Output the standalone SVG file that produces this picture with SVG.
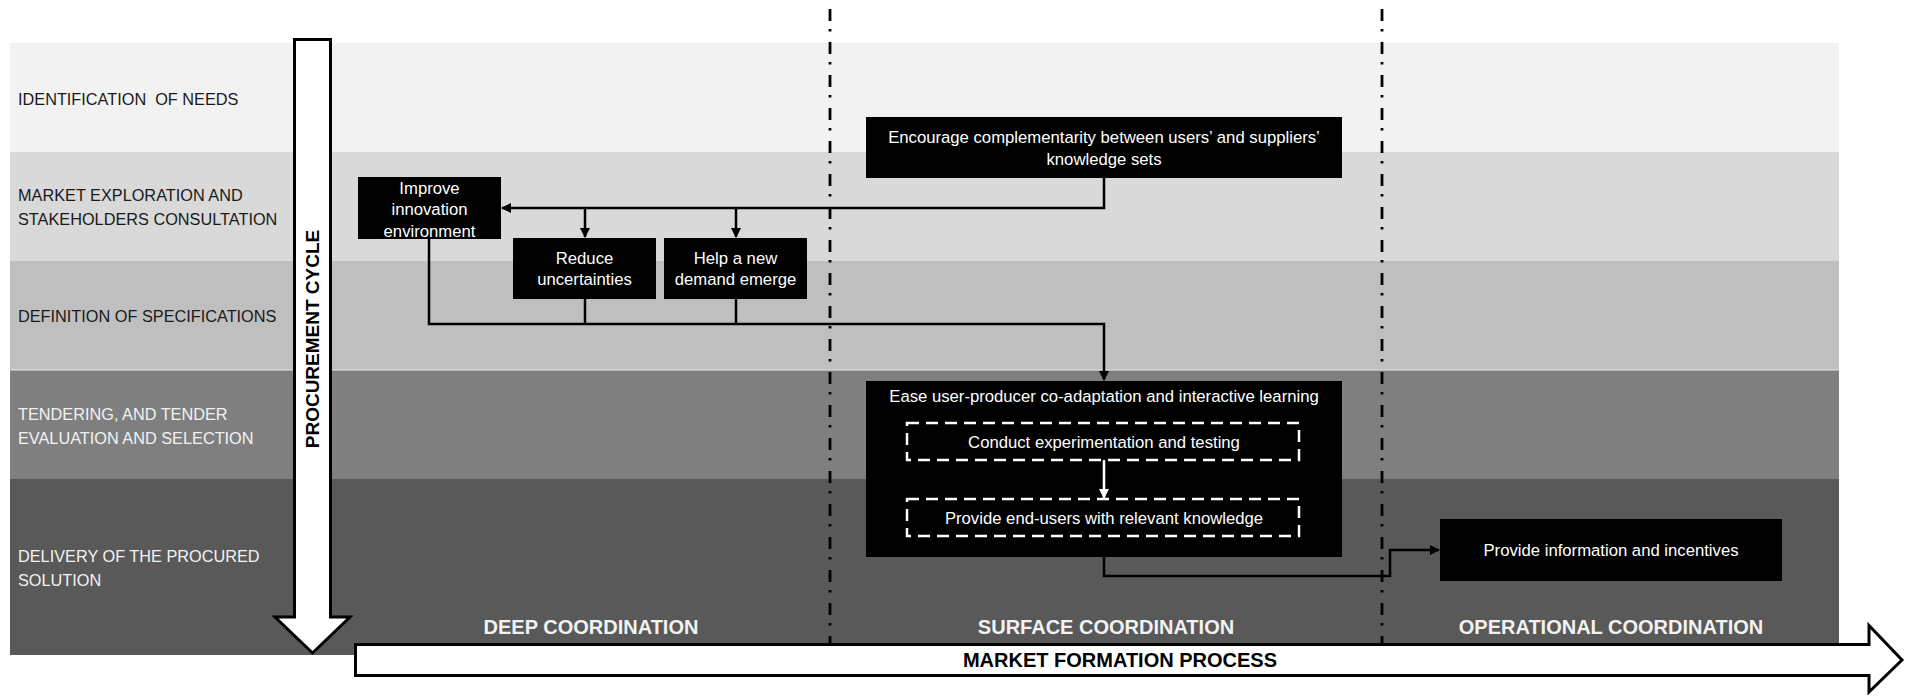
<svg xmlns="http://www.w3.org/2000/svg" width="1910" height="696" viewBox="0 0 1910 696">
<style>
.lbl{font-family:"Liberation Sans",Arial,sans-serif;font-size:16.3px;white-space:pre}
.dk{fill:#1a1a1a}
.lt{fill:#f2f2f2}
.node rect.box{fill:#000}
.nt{font-family:"Liberation Sans",Arial,sans-serif;font-size:16.7px;fill:#fff;text-anchor:middle}
.dash{fill:none;stroke:#fff;stroke-width:2.5;stroke-dasharray:12 7}
.conn{fill:none;stroke:#000;stroke-width:2.5}
.connw{fill:none;stroke:#fff;stroke-width:2.5}
.sep{fill:none;stroke:#000;stroke-width:2.8;stroke-dasharray:12 8 2.5 10.5}
.big{fill:#fff;stroke:#000;stroke-width:3}
.hd{font-family:"Liberation Sans",Arial,sans-serif;font-size:20px;font-weight:bold;text-anchor:middle}
</style>
<defs>
<marker id="ah" viewBox="0 0 10 10" refX="9" refY="5" markerWidth="10" markerHeight="10" markerUnits="userSpaceOnUse" orient="auto">
<path d="M0,0 L10,5 L0,10 Z" fill="#000"/>
</marker>
<marker id="ahw" viewBox="0 0 10 10" refX="9" refY="5" markerWidth="10" markerHeight="10" markerUnits="userSpaceOnUse" orient="auto">
<path d="M0,0 L10,5 L0,10 Z" fill="#fff"/>
</marker>
</defs>
<rect width="1910" height="696" fill="#fff"/>
<g id="bands">
<rect x="10" y="43" width="1829" height="109" fill="#f2f2f2"/>
<rect x="10" y="152" width="1829" height="109" fill="#d9d9d9"/>
<rect x="10" y="261" width="1829" height="109" fill="#bfbfbf"/>
<rect x="10" y="370" width="1829" height="109" fill="#7f7f7f"/>
<rect x="10" y="479" width="1829" height="176" fill="#595959"/>
<line x1="10" y1="370" x2="1839" y2="370" stroke="#e8e8e8" stroke-width="1.2"/>
<text class="lbl dk" x="18" y="105">IDENTIFICATION  OF NEEDS</text>
<text class="lbl dk" x="18" y="201">MARKET EXPLORATION AND</text>
<text class="lbl dk" x="18" y="225">STAKEHOLDERS CONSULTATION</text>
<text class="lbl dk" x="18" y="322">DEFINITION OF SPECIFICATIONS</text>
<text class="lbl lt" x="18" y="420">TENDERING, AND TENDER</text>
<text class="lbl lt" x="18" y="444">EVALUATION AND SELECTION</text>
<text class="lbl lt" x="18" y="562">DELIVERY OF THE PROCURED</text>
<text class="lbl lt" x="18" y="586">SOLUTION</text>
</g>
<g id="separators">
<line class="sep" x1="830" y1="9" x2="830" y2="643"/>
<line class="sep" x1="1382" y1="9" x2="1382" y2="643"/>
</g>
<g id="column-labels">
<text class="hd lt" x="591" y="634">DEEP COORDINATION</text>
<text class="hd lt" x="1106" y="634">SURFACE COORDINATION</text>
<text class="hd lt" x="1611" y="634">OPERATIONAL COORDINATION</text>
</g>
<g id="procurement-cycle">
<path class="big" d="M294.5,39.5 H330.5 V617 H350 L312.5,653 L275,617 H294.5 Z"/>
<text class="hd" style="font-size:19px" fill="#000" transform="translate(319,339) rotate(-90)" x="0" y="0">PROCUREMENT CYCLE</text>
</g>
<g id="market-formation">
<path class="big" d="M355.5,644.5 H1869 V625.5 L1902,660 L1869,692 V675.5 H355.5 Z"/>
<text class="hd" fill="#000" x="1120" y="667">MARKET FORMATION PROCESS</text>
</g>
<g id="connectors">
<path class="conn" d="M1104,178 V208 H502" marker-end="url(#ah)"/>
<path class="conn" d="M585,208 V237" marker-end="url(#ah)"/>
<path class="conn" d="M736,208 V237" marker-end="url(#ah)"/>
<path class="conn" d="M429,239 V324 H1104 V380" marker-end="url(#ah)"/>
<path class="conn" d="M585,299 V324"/>
<path class="conn" d="M736,299 V324"/>
<path class="conn" d="M1104,557 V576 H1390 V550 H1439" marker-end="url(#ah)"/>
</g>
<g id="node-encourage" class="node">
<rect class="box" x="866" y="117" width="476" height="61"/>
<text class="nt" x="1104" y="142.5">Encourage complementarity between users’ and suppliers’</text>
<text class="nt" x="1104" y="164.5">knowledge sets</text>
</g>
<g id="node-improve" class="node">
<rect class="box" x="358" y="177" width="143" height="62"/>
<text class="nt" x="429.5" y="193.5">Improve</text>
<text class="nt" x="429.5" y="215">innovation</text>
<text class="nt" x="429.5" y="236.5">environment</text>
</g>
<g id="node-reduce" class="node">
<rect class="box" x="513" y="238" width="143" height="61"/>
<text class="nt" x="584.5" y="264">Reduce</text>
<text class="nt" x="584.5" y="285">uncertainties</text>
</g>
<g id="node-help" class="node">
<rect class="box" x="664" y="238" width="143" height="61"/>
<text class="nt" x="735.5" y="264">Help a new</text>
<text class="nt" x="735.5" y="285">demand emerge</text>
</g>
<g id="node-ease" class="node">
<rect class="box" x="866" y="381" width="476" height="176"/>
<text class="nt" x="1104" y="402">Ease user-producer co-adaptation and interactive learning</text>
</g>
<g id="node-conduct" class="node">
<rect class="dash" x="907" y="423" width="392" height="37"/>
<text class="nt" x="1104" y="447.5">Conduct experimentation and testing</text>
</g>
<g id="node-provide-knowledge" class="node">
<rect class="dash" x="907" y="499" width="392" height="37"/>
<text class="nt" x="1104" y="524">Provide end-users with relevant knowledge</text>
</g>
<g id="connectors-inner">
<path class="connw" d="M1104,460 V498" marker-end="url(#ahw)"/>
</g>
<g id="node-info" class="node">
<rect class="box" x="1440" y="519" width="342" height="62"/>
<text class="nt" x="1611" y="556">Provide information and incentives</text>
</g>
</svg>
